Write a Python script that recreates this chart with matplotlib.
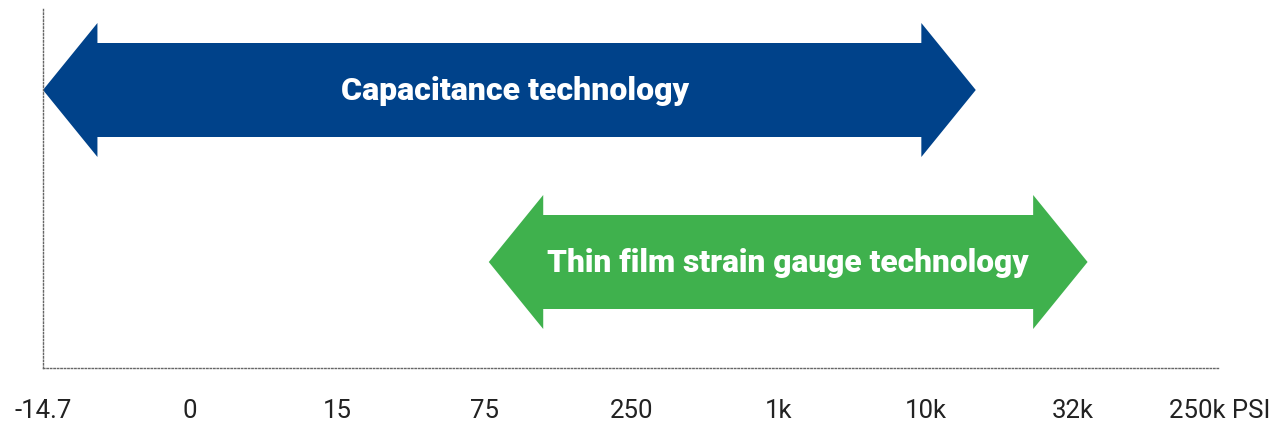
import matplotlib
matplotlib.use("Agg")
from matplotlib import pyplot as plt
from matplotlib.patches import Polygon

# pressure scale (ticks are evenly spaced, not proportional)
tick_labels = ["-14.7", "0", "15", "75", "250", "1k", "10k", "32k", "250k PSI"]

# technologies: range on the tick-index scale
tech_names = ["Capacitance technology", "Thin film strain gauge technology"]
tech_start = [0.0, 3.03]
tech_end = [6.34, 7.10]
tech_level = [278, 106]
tech_colors = ["#00428A", "#3FB14D"]


def double_arrow(ax, x0, x1, y, color, head_len=0.37, head_half=67, shaft_half=47):
    pts = [
        (x0, y),
        (x0 + head_len, y + head_half),
        (x0 + head_len, y + shaft_half),
        (x1 - head_len, y + shaft_half),
        (x1 - head_len, y + head_half),
        (x1, y),
        (x1 - head_len, y - head_half),
        (x1 - head_len, y - shaft_half),
        (x0 + head_len, y - shaft_half),
        (x0 + head_len, y - head_half),
    ]
    ax.add_patch(Polygon(pts, closed=True, facecolor=color, edgecolor="none"))


def main():
    plt.rcParams["font.family"] = ["Roboto", "DejaVu Sans"]
    fig = plt.figure(figsize=(12.81, 4.29), dpi=100)
    ax = fig.add_axes([43 / 1281, 61 / 429, 1177 / 1281, 361 / 429])

    offsets = [0.04, 0.0]
    sizes = [23, 22.8]
    for name, x0, x1, y, c, dx, fs in zip(tech_names, tech_start, tech_end, tech_level, tech_colors, offsets, sizes):
        double_arrow(ax, x0, x1, y, c)
        ax.text((x0 + x1) / 2 + dx, y - 1, name, ha="center", va="center", color="white",
                fontsize=fs, fontweight="heavy")

    ax.set_xlim(0, len(tick_labels) - 1)
    ax.set_ylim(0, 361)
    ax.set_xticks(range(len(tick_labels)))
    ax.set_xticklabels(tick_labels, fontsize=18.5, color="#222222")
    ax.tick_params(axis="x", length=0, pad=22)
    ax.set_yticks([])

    for side in ["top", "right"]:
        ax.spines[side].set_visible(False)
    for side in ["left", "bottom"]:
        ax.spines[side].set_linestyle((0, (1, 1.5)))
        ax.spines[side].set_color("#666666")
        ax.spines[side].set_linewidth(1)

    fig.savefig("out.png", dpi=100)


if __name__ == "__main__":
    main()
